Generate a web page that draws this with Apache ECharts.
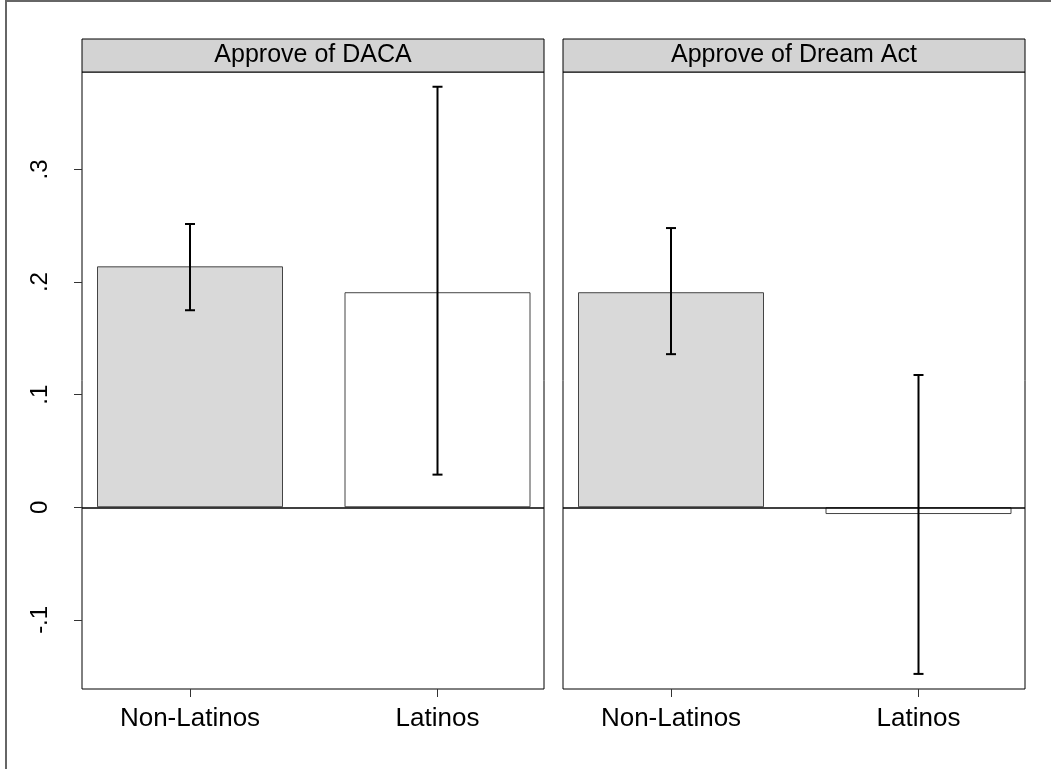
<!DOCTYPE html>
<html>
<head>
<meta charset="utf-8">
<script src="https://cdn.jsdelivr.net/npm/echarts@6/dist/echarts.min.js"></script>
<style>
  html, body { margin: 0; padding: 0; background: #fff; }
  #chart { width: 1051px; height: 769px; }
</style>
</head>
<body>
<div id="chart"></div>
<script>
// Groups shown on the x axis of each panel
const categories = ['Non-Latinos', 'Latinos'];
// Panel headings
const panelTitles = ['Approve of DACA', 'Approve of Dream Act'];

// Estimated effects with 95% confidence bounds, one array per panel
const dacaMean = [0.214, 0.191];
const dacaLow  = [0.175, 0.029];
const dacaHigh = [0.2516, 0.3735];

const dreamMean = [0.191, -0.006];
const dreamLow  = [0.136, -0.148];
const dreamHigh = [0.248, 0.1175];

// Y axis tick values and their labels
const yTicks = [-0.1, 0, 0.1, 0.2, 0.3];
const yTickLabels = ['-.1', '0', '.1', '.2', '.3'];

const panels = [
  { title: panelTitles[0], mean: dacaMean, low: dacaLow, high: dacaHigh },
  { title: panelTitles[1], mean: dreamMean, low: dreamLow, high: dreamHigh }
];

// Layout
const FONT = '"Liberation Sans", Arial, Helvetica, sans-serif';
const panelLeft = [82, 563];
const panelWidth = 462;
const plotTop = 72;
const plotBottom = 689;
const headerTop = 39;
const Y_MIN = -0.1614, Y_MAX = 0.3866;
const X_MIN = 0.5636, X_MAX = 2.4303;
const barFill = ['#d9d9d9', '#ffffff'];

const chart = echarts.init(document.getElementById('chart'), null, { renderer: 'canvas' });

const grids = [], xAxes = [], yAxes = [], series = [], graphics = [];

panels.forEach((p, i) => {
  grids.push({
    left: panelLeft[i], top: plotTop, width: panelWidth, height: plotBottom - plotTop,
    show: true, borderColor: '#000', borderWidth: 1, backgroundColor: 'transparent',
    containLabel: false
  });
  xAxes.push({
    type: 'value', gridIndex: i, min: X_MIN, max: X_MAX, position: 'bottom',
    axisLine: { show: false, onZero: false },
    splitLine: { show: false },
    axisTick: { show: true, length: 8, customValues: [1, 2], lineStyle: { color: '#333', width: 1 } },
    axisLabel: {
      show: true, customValues: [1, 2], margin: 17,
      formatter: v => categories[Math.round(v) - 1] || '',
      color: '#000', fontSize: 26, fontFamily: FONT
    }
  });
  yAxes.push({
    type: 'value', gridIndex: i, min: Y_MIN, max: Y_MAX, position: 'left',
    axisLine: { show: false, onZero: false },
    splitLine: { show: false },
    axisTick: { show: i === 0, length: 8, customValues: yTicks, lineStyle: { color: '#333', width: 1 } },
    axisLabel: {
      show: i === 0, customValues: yTicks, rotate: 90, margin: 30,
      formatter: v => {
        const k = yTicks.findIndex(t => Math.abs(t - v) < 1e-9);
        return k >= 0 ? yTickLabels[k] : '';
      },
      color: '#000', fontSize: 24, fontFamily: FONT
    }
  });

  // Bars
  series.push({
    type: 'bar', xAxisIndex: i, yAxisIndex: i, barWidth: 186,
    data: p.mean.map((m, k) => ({
      value: [k + 1, m],
      itemStyle: { color: barFill[k], borderColor: '#444', borderWidth: 1 }
    })),
    markLine: {
      silent: true, symbol: ['none', 'none'],
      label: { show: false },
      lineStyle: { color: '#000', type: 'solid', width: 1.5 },
      data: [{ yAxis: 0 }]
    },
    animation: false
  });

  // Confidence intervals
  series.push({
    type: 'custom', xAxisIndex: i, yAxisIndex: i, z: 5,
    data: p.mean.map((m, k) => [k + 1, p.low[k], p.high[k]]),
    renderItem: (params, api) => {
      const x = api.value(0);
      const lo = api.coord([x, api.value(1)]);
      const hi = api.coord([x, api.value(2)]);
      const cap = 5;
      const style = { stroke: '#000', lineWidth: 2 };
      return {
        type: 'group',
        children: [
          { type: 'line', shape: { x1: lo[0], y1: lo[1], x2: hi[0], y2: hi[1] }, style },
          { type: 'line', shape: { x1: lo[0] - cap, y1: lo[1], x2: lo[0] + cap, y2: lo[1] }, style },
          { type: 'line', shape: { x1: hi[0] - cap, y1: hi[1], x2: hi[0] + cap, y2: hi[1] }, style }
        ]
      };
    },
    animation: false
  });

  // Panel heading strip
  graphics.push({
    type: 'rect', silent: true,
    shape: { x: panelLeft[i], y: headerTop, width: panelWidth, height: plotTop - headerTop },
    style: { fill: '#d3d3d3', stroke: '#000', lineWidth: 1 }
  });
  graphics.push({
    type: 'text', silent: true,
    x: panelLeft[i] + panelWidth / 2, y: (headerTop + plotTop) / 2,
    style: {
      text: p.title, fill: '#000', font: '25px ' + FONT,
      align: 'center', verticalAlign: 'middle'
    }
  });
});

// Outer frame edges
graphics.push({
  type: 'line', silent: true,
  shape: { x1: 6, y1: 0, x2: 6, y2: 769 },
  style: { stroke: '#666', lineWidth: 2 }
});
graphics.push({
  type: 'line', silent: true,
  shape: { x1: 6, y1: 1, x2: 1051, y2: 1 },
  style: { stroke: '#666', lineWidth: 2 }
});

chart.setOption({
  animation: false,
  backgroundColor: '#fff',
  grid: grids,
  xAxis: xAxes,
  yAxis: yAxes,
  series: series,
  graphic: graphics
});
</script>
</body>
</html>
